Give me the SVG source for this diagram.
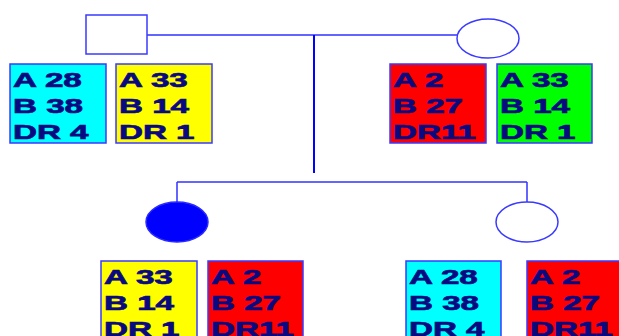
<svg xmlns="http://www.w3.org/2000/svg" width="619" height="336" viewBox="0 0 619 336">
<style>
.bg{fill:#ffffff}
.shape{fill:#ffffff;stroke:#3a3aff;stroke-width:1.5}
.filled{fill:#0000ff;stroke:#2a2aff;stroke-width:1.5}
.box{stroke:#3a3aff;stroke-width:1.5}
.cyan{fill:#00ffff}
.yellow{fill:#ffff00}
.red{fill:#ff0000}
.green{fill:#00ff00}
.lbl{font-family:"Liberation Sans",Arial,sans-serif;font-weight:bold;font-size:21px;fill:#0a0a80;stroke:#0a0a80;stroke-width:0.7}
.line{stroke:#3030ff;stroke-width:1.5;fill:none}
.vline{stroke:#0000ff;stroke-width:2;fill:none}
</style>
<rect class="bg" x="0" y="0" width="619" height="336"/>
<g id="connectors">
<line class="line" x1="147" y1="35" x2="457" y2="35"/>
<line class="vline" x1="314" y1="35" x2="314" y2="173"/>
<line class="line" x1="177" y1="182" x2="527" y2="182"/>
<line class="line" x1="177" y1="182" x2="177" y2="202"/>
<line class="line" x1="527" y1="182" x2="527" y2="202"/>
</g>
<g id="father">
<rect class="shape" x="86" y="15" width="61" height="39"/>
</g>
<g id="mother">
<ellipse class="shape" cx="488" cy="38.5" rx="31" ry="19.5"/>
</g>
<g id="daughter">
<ellipse class="filled" cx="177" cy="222" rx="31" ry="20"/>
</g>
<g id="child2">
<ellipse class="shape" cx="527" cy="222" rx="31" ry="20"/>
</g>
<g id="father-hap1">
<rect class="box cyan" x="10" y="64" width="96" height="79"/>
<text class="lbl" transform="translate(13,0) scale(1.58,1)"><tspan x="0" y="87">A 28</tspan><tspan x="0" y="113">B 38</tspan><tspan x="0" y="139">DR 4</tspan></text>
</g>
<g id="father-hap2">
<rect class="box yellow" x="116" y="64" width="96" height="79"/>
<text class="lbl" transform="translate(119,0) scale(1.58,1)"><tspan x="0" y="87">A 33</tspan><tspan x="0" y="113">B 14</tspan><tspan x="0" y="139">DR 1</tspan></text>
</g>
<g id="mother-hap1">
<rect class="box red" x="390" y="64" width="96" height="79"/>
<text class="lbl" transform="translate(393,0) scale(1.58,1)"><tspan x="0" y="87">A 2</tspan><tspan x="0" y="113">B 27</tspan><tspan x="0" y="139">DR11</tspan></text>
</g>
<g id="mother-hap2">
<rect class="box green" x="497" y="64" width="95" height="79"/>
<text class="lbl" transform="translate(500,0) scale(1.58,1)"><tspan x="0" y="87">A 33</tspan><tspan x="0" y="113">B 14</tspan><tspan x="0" y="139">DR 1</tspan></text>
</g>
<g id="daughter-hap1">
<rect class="box yellow" x="101" y="261" width="96" height="80"/>
<text class="lbl" transform="translate(104,0) scale(1.58,1)"><tspan x="0" y="284">A 33</tspan><tspan x="0" y="310">B 14</tspan><tspan x="0" y="336">DR 1</tspan></text>
</g>
<g id="daughter-hap2">
<rect class="box red" x="208" y="261" width="95" height="80"/>
<text class="lbl" transform="translate(211,0) scale(1.58,1)"><tspan x="0" y="284">A 2</tspan><tspan x="0" y="310">B 27</tspan><tspan x="0" y="336">DR11</tspan></text>
</g>
<g id="child2-hap1">
<rect class="box cyan" x="406" y="261" width="95" height="80"/>
<text class="lbl" transform="translate(409,0) scale(1.58,1)"><tspan x="0" y="284">A 28</tspan><tspan x="0" y="310">B 38</tspan><tspan x="0" y="336">DR 4</tspan></text>
</g>
<g id="child2-hap2">
<rect class="box red" x="527" y="261" width="96" height="80"/>
<text class="lbl" transform="translate(530,0) scale(1.58,1)"><tspan x="0" y="284">A 2</tspan><tspan x="0" y="310">B 27</tspan><tspan x="0" y="336">DR11</tspan></text>
</g>
</svg>
